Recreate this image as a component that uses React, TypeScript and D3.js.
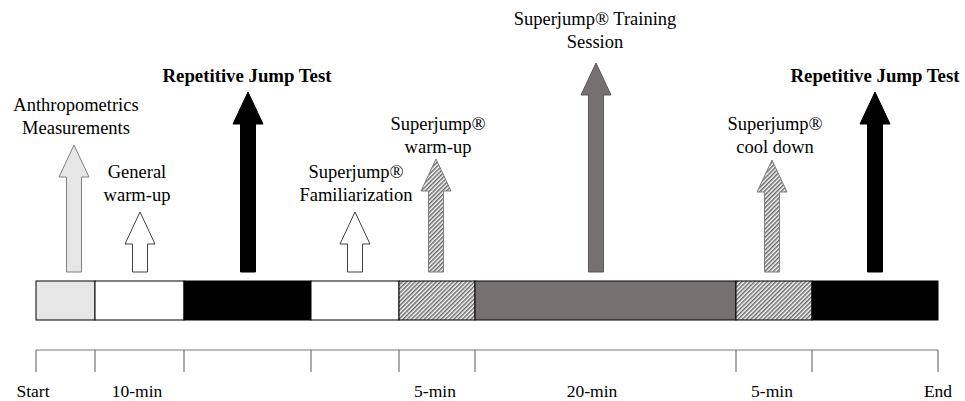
import React, { useEffect, useRef } from "react";
import * as d3 from "d3";

// timeline segment boundaries (relative units) and their fills
const bounds = [0, 5.9, 14.8, 27.5, 36.3, 43.9, 70.0, 77.6, 90.2];
const segFills = ["light", "white", "black", "white", "hatch", "gray", "hatch", "black"];

// tick labels under the timeline
const tickLabels = ["Start", "10-min", "5-min", "20-min", "5-min", "End"];
const tickLabelPos = [-0.3, 10.1, 39.9, 55.6, 73.6, 90.2];

// arrows: position, height above the base, fill
const arrowPos = [3.8, 10.4, 21.2, 31.9, 40.0, 56.0, 73.6, 83.9];
const arrowHeight = [127, 60, 180, 60, 113, 209, 112, 180];
const arrowFills = ["light", "white", "black", "white", "hatch", "gray", "hatch", "black"];

// arrow captions
const captions = [
  ["Anthropometrics", "Measurements"],
  ["General", "warm-up"],
  ["Repetitive Jump Test"],
  ["Superjump®", "Familiarization"],
  ["Superjump®", "warm-up"],
  ["Superjump® Training", "Session"],
  ["Superjump®", "cool down"],
  ["Repetitive Jump Test"],
];
const captionPos = [4.0, 10.1, 21.1, 32.0, 40.2, 55.9, 73.9, 83.9];
const captionBaseline = [111, 178, 82, 178, 130, 25, 130, 82];
const captionBold = [false, false, true, false, false, false, false, true];

const fillOf = (k: string) =>
  k === "light" ? "#e7e6e6" : k === "white" ? "#ffffff" : k === "black" ? "#000000" : k === "gray" ? "#767171" : "url(#hatch)";
const strokeOf = (k: string) =>
  k === "light" ? "#808080" : k === "white" ? "#404040" : k === "black" ? "#000000" : k === "gray" ? "#595959" : "#7f7f7f";

const App = () => {
  const ref = useRef<SVGSVGElement>(null);

  useEffect(() => {
    const svg = d3.select(ref.current);
    svg.selectAll("*").remove();

    const width = 965;
    const height = 401;
    const font = "'Liberation Serif', 'Times New Roman', serif";

    const x = d3.scaleLinear().domain([0, 90.2]).range([36, 938]);
    const baseY = 272;
    const y = d3.scaleLinear().domain([0, 209]).range([baseY, 63]);

    svg.attr("viewBox", `0 0 ${width} ${height}`);

    const defs = svg.append("defs");
    const pat = defs
      .append("pattern")
      .attr("id", "hatch")
      .attr("patternUnits", "userSpaceOnUse")
      .attr("width", 3)
      .attr("height", 3)
      .attr("patternTransform", "rotate(45)");
    pat.append("rect").attr("width", 3).attr("height", 3).attr("fill", "#ffffff");
    pat.append("line").attr("x1", 0.75).attr("y1", 0).attr("x2", 0.75).attr("y2", 3)
      .attr("stroke", "#6a6a6a").attr("stroke-width", 1.6);

    // timeline bar
    const barTop = 281;
    const barH = 39;
    svg.append("g")
      .selectAll("rect")
      .data(segFills)
      .join("rect")
      .attr("x", (d, i) => x(bounds[i]))
      .attr("y", barTop)
      .attr("width", (d, i) => x(bounds[i + 1]) - x(bounds[i]))
      .attr("height", barH)
      .attr("fill", d => fillOf(d))
      .attr("stroke", "#000")
      .attr("stroke-width", 1);

    // time axis
    const axisY = 350;
    svg.append("line")
      .attr("x1", x(0)).attr("x2", x(90.2))
      .attr("y1", axisY).attr("y2", axisY)
      .attr("stroke", "#a6a6a6").attr("stroke-width", 1.5);
    svg.append("g")
      .selectAll("line")
      .data(bounds)
      .join("line")
      .attr("x1", d => x(d)).attr("x2", d => x(d))
      .attr("y1", axisY).attr("y2", axisY + 22)
      .attr("stroke", "#595959").attr("stroke-width", 1);
    svg.append("g")
      .selectAll("text")
      .data(tickLabels)
      .join("text")
      .attr("x", (d, i) => x(tickLabelPos[i]))
      .attr("y", 397)
      .attr("text-anchor", "middle")
      .style("font-family", font)
      .style("font-size", "17.5px")
      .style("fill", "#000")
      .text(d => d);

    // arrows
    const headH = 32;
    const headW = 15;
    const shaftW = 7.5;
    const arrowPath = (cx: number, tip: number) => {
      const p = d3.path();
      p.moveTo(cx - shaftW, baseY);
      p.lineTo(cx - shaftW, tip + headH);
      p.lineTo(cx - headW, tip + headH);
      p.lineTo(cx, tip);
      p.lineTo(cx + headW, tip + headH);
      p.lineTo(cx + shaftW, tip + headH);
      p.lineTo(cx + shaftW, baseY);
      p.closePath();
      return p.toString();
    };
    svg.append("g")
      .selectAll("path")
      .data(arrowFills)
      .join("path")
      .attr("d", (d, i) => arrowPath(x(arrowPos[i]), y(arrowHeight[i])))
      .attr("fill", d => fillOf(d))
      .attr("stroke", d => strokeOf(d))
      .attr("stroke-width", 1);

    // captions
    const cap = svg.append("g")
      .selectAll("text")
      .data(captions)
      .join("text")
      .attr("text-anchor", "middle")
      .style("font-family", font)
      .style("font-size", (d, i) => (captionBold[i] ? "18.8px" : "18.5px"))
      .style("font-weight", (d, i) => (captionBold[i] ? "bold" : "normal"))
      .style("fill", "#000");
    cap.each(function (lines, i) {
      d3.select(this)
        .selectAll("tspan")
        .data(lines)
        .join("tspan")
        .attr("x", x(captionPos[i]))
        .attr("y", (d, j) => captionBaseline[i] + j * 23)
        .text(d => d);
    });
  }, []);

  return (
    <svg
      ref={ref}
      width={965}
      height={401}
      style={{ position: "absolute", left: 0, top: 0, background: "#fff" }}
    />
  );
};

export default App;
